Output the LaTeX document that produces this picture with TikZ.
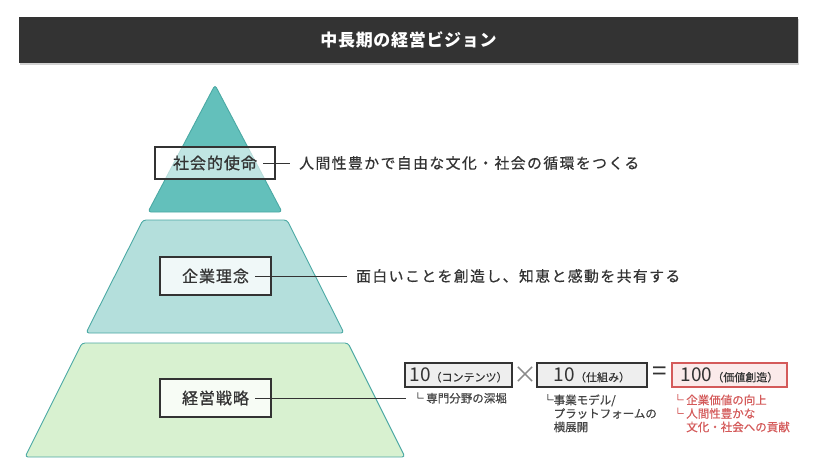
\documentclass[tikz,border=0pt]{standalone}
\usepackage{fontspec}
\setmainfont{Noto Sans CJK JP}
\newfontfamily\descfont[LetterSpace=10,FakeBold=0.6]{Noto Sans CJK JP}
\newfontfamily\labfont[LetterSpace=6,FakeBold=0.8]{Noto Sans CJK JP}
\newfontfamily\notefont[FakeBold=0.5]{Noto Sans CJK JP}
\newfontfamily\titlefont[LetterSpace=4]{Noto Sans CJK JP}
\usetikzlibrary{shadows}
\definecolor{titlebg}{HTML}{333333}
\definecolor{tealA}{HTML}{63C0BB}
\definecolor{tealB}{HTML}{B4DFDC}
\definecolor{greenC}{HTML}{D8F1D0}
\definecolor{tealdark}{HTML}{4BA9A4}
\definecolor{boxline}{HTML}{333333}
\definecolor{grayfill}{HTML}{EEEEEE}
\definecolor{redc}{HTML}{D45A5A}
\definecolor{redfill}{HTML}{FBEAEA}
\definecolor{notec}{HTML}{444444}
\definecolor{xgray}{HTML}{8A8A8A}
\begin{document}
\begin{tikzpicture}[x=1pt,y=-1pt,
  tier/.style={draw=tealdark, line width=0.9pt, rounded corners=3pt, line join=round},
  labbox/.style={draw=boxline, line width=1.6pt, fill=white, inner sep=0},
  labtext/.style={text=boxline, inner xsep=6pt, font=\labfont\fontsize{16}{18}\selectfont},
  desc/.style={text=boxline, inner xsep=9pt, font=\descfont\fontsize{14.8}{17}\selectfont},
  conn/.style={draw=boxline, line width=0.9pt},
  fbox/.style={draw=boxline, line width=1.6pt, fill=grayfill, minimum height=24pt, inner sep=0, text=boxline},
  note/.style={text=notec, inner sep=0, align=left, font=\notefont\fontsize{11.5}{13.5}\selectfont}
]
\useasboundingbox (0,0) rectangle (821,471);
\fill[white] (0,0) rectangle (821,471);

% title bar
\node[fill=titlebg, minimum width=779pt, minimum height=46pt, inner sep=0,
  drop shadow={opacity=0.35, shadow xshift=1pt, shadow yshift=-2pt}] (bar) at (408.5,40) {};
\node[text=white, font=\titlefont\bfseries\fontsize{17}{20}\selectfont] (title) at (bar.center) {中長期の経営ビジョン};

% pyramid tiers
\draw[tier, fill=tealA] (215,85) -- (282,212) -- (148,212) -- cycle;
\draw[tier, fill=tealB] (143,220) -- (287,220) -- (344,333) -- (86,333) -- cycle;
\draw[tier, fill=greenC] (82,343) -- (348,343) -- (405,457) -- (25,457) -- cycle;

% label boxes
\node[labbox, fill opacity=0.6, minimum width=120pt, minimum height=32pt] (b1) at (215,163) {};
\node[labbox, fill opacity=0.8, minimum width=111pt, minimum height=38pt] (b2) at (215.5,276) {};
\node[labbox, fill opacity=0.8, minimum width=111pt, minimum height=38pt] (b3) at (215.5,398) {};
\node[labtext] (t1) at (b1.center) {社会的使命};
\node[labtext] (t2) at (b2.center) {企業理念};
\node[labtext] (t3) at (b3.center) {経営戦略};

% descriptions
\node[desc, anchor=west] (d1) at (290,163) {人間性豊かで自由な文化・社会の循環をつくる};
\node[desc, anchor=west] (d2) at (347,276) {面白いことを創造し、知恵と感動を共有する};
\draw[conn] (t1.east) -- (t1.east -| d1.west);
\draw[conn] (t2.east) -- (t2.east -| d2.west);

% formula
\node[fbox, minimum width=107pt] (f1) at (458.5,375) {{\fontsize{19}{19}\selectfont 10}{\notefont\fontsize{11}{12}\selectfont （コンテンツ）}};
\node[text=xgray, font=\fontsize{24}{24}\selectfont] (times) at (525,375) {×};
\node[fbox, minimum width=110pt] (f2) at (592,375) {{\fontsize{19}{19}\selectfont 10}{\notefont\fontsize{11}{12}\selectfont （仕組み）}};
\node[text=boxline, font=\fontsize{26}{26}\selectfont] (eq) at (660,374) {=};
\node[fbox, draw=redc, fill=redfill, minimum width=115pt] (f3) at (729.5,375) {{\fontsize{19}{19}\selectfont 100}{\notefont\fontsize{11}{12}\selectfont （価値創造）}};

% notes
\node[note, anchor=west, inner xsep=6pt] (n1) at (406,398) {└ 専門分野の深堀};
\draw[conn] (t3.east) -- (t3.east -| n1.west);
\node[note, anchor=north west] (n2) at (542,394) {└事業モデル/\\\phantom{└}プラットフォームの\\\phantom{└}横展開};
\node[note, anchor=north west, text=redc] (n3) at (672,394) {└ 企業価値の向上\\└ 人間性豊かな\\\phantom{└ }文化・社会への貢献};
\end{tikzpicture}
\end{document}
